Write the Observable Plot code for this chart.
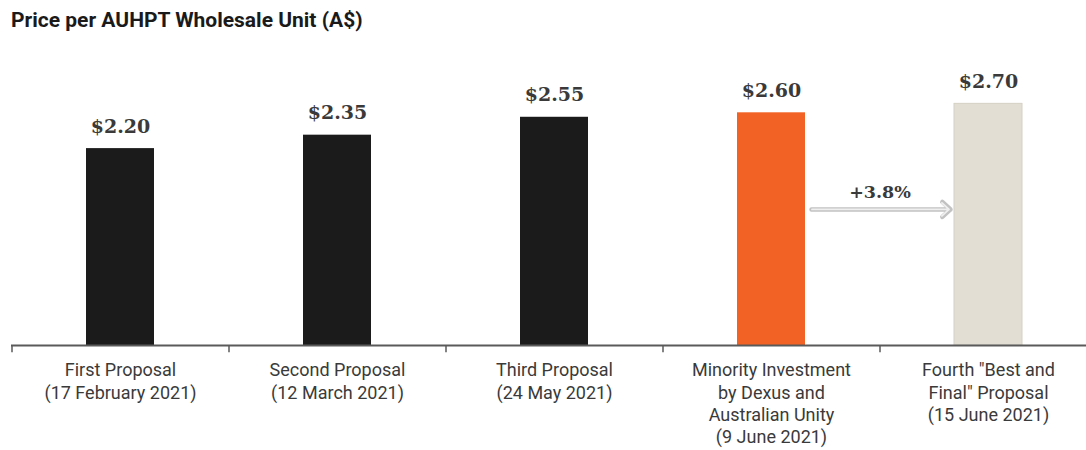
<!DOCTYPE html>
<html>
<head>
<meta charset="utf-8">
<script src="https://cdn.jsdelivr.net/npm/d3@7"></script>
<script src="https://cdn.jsdelivr.net/npm/@observablehq/plot@0.6"></script>
<style>
  html, body { margin: 0; padding: 0; background: #fff; overflow: hidden; }
  #title { font-family: Roboto, sans-serif; font-weight: 700; font-size: 21px; line-height: 25px;
           color: #1a1a1a; padding: 8px 0 0 11px; height: 42px; box-sizing: content-box; }
  #chart { width: 1086px; overflow: hidden; }
</style>
</head>
<body>
<div id="title">Price per AUHPT Wholesale Unit (A$)</div>
<div id="chart"></div>
<script>
const categories = [
  "First Proposal",
  "Second Proposal",
  "Third Proposal",
  "Minority Investment\nby Dexus and\nAustralian Unity",
  "Fourth \"Best and\nFinal\" Proposal"
];
const dates = ["17 February 2021", "12 March 2021", "24 May 2021", "9 June 2021", "15 June 2021"];
const values = [2.20, 2.35, 2.55, 2.60, 2.70];
const valueLabels = ["$2.20", "$2.35", "$2.55", "$2.60", "$2.70"];
const kinds = ["Proposal", "Proposal", "Proposal", "Minority", "Final"];
const changeLabel = "+3.8%";
const changeFrom = 3; // index of Minority Investment
const changeTo = 4;   // index of Fourth proposal
const arrowLevel = 1.52;
const changeLabelLevel = 1.65;

const tickLabels = categories.map((c, i) => `${c}\n(${dates[i]})`);
const rows = categories.map((c, i) => ({cat: tickLabels[i], value: values[i], label: valueLabels[i], kind: kinds[i]}));

const xRange = [11, 1096];
const step = (xRange[1] - xRange[0]) / categories.length;
const arrowData = [{from: tickLabels[changeFrom], to: tickLabels[changeTo], y: arrowLevel}];

const chart = Plot.plot({
  width: 1086,
  height: 400,
  marginLeft: 11,
  marginRight: 0,
  marginTop: 26.5,
  marginBottom: 105,
  style: {background: "#fff", overflow: "hidden"},
  x: {domain: tickLabels, range: xRange, paddingInner: 0.687, paddingOuter: 0.3435, label: null},
  y: {domain: [0, 3], axis: null},
  color: {domain: ["Proposal", "Minority", "Final"], range: ["#1b1b1b", "#f26224", "#e2ded4"]},
  marks: [
    Plot.barY(rows, {x: "cat", y: "value", fill: "kind", stroke: d => d.kind === "Final" ? "#d5d0c4" : "none", strokeWidth: 1}),
    Plot.ruleY([0], {stroke: "#5a5a5a", strokeWidth: 2}),
    Plot.ruleX(tickLabels, {x: d => d, dx: -step / 2, y1: 0, y2: -0.08, stroke: "#5a5a5a", strokeWidth: 1.5}),
    Plot.axisX({tickSize: 0, tickPadding: 15, fontSize: 18, lineHeight: 1.24, fontFamily: "Roboto, sans-serif", color: "#3a3a3a", label: null}),
    Plot.text(rows, {x: "cat", y: "value", text: "label", dy: -16, lineAnchor: "bottom",
      fontFamily: "DejaVu Serif, serif", fontWeight: "bold", fontSize: 19, fill: "#3a3a3a"}),
    Plot.arrow(arrowData, {
      x1: "from", x2: "to", y1: "y", y2: "y", insetStart: 40, insetEnd: 38,
      stroke: "#c2c2c2", strokeWidth: 4.5, headLength: 3.7, headAngle: 85}),
    Plot.arrow(arrowData, {
      x1: "from", x2: "to", y1: "y", y2: "y", insetStart: 40.5, insetEnd: 39.5,
      stroke: "#efefef", strokeWidth: 1.8, headLength: 8, headAngle: 85}),
    Plot.text([{at: tickLabels[changeFrom], y: changeLabelLevel, t: changeLabel}], {
      x: "at", y: "y", text: "t", dx: step / 2, lineAnchor: "bottom",
      fontFamily: "DejaVu Serif, serif", fontWeight: "bold", fontSize: 17.5, fill: "#3a3a3a"})
  ]
});
document.getElementById("chart").appendChild(chart);
</script>
</body>
</html>
